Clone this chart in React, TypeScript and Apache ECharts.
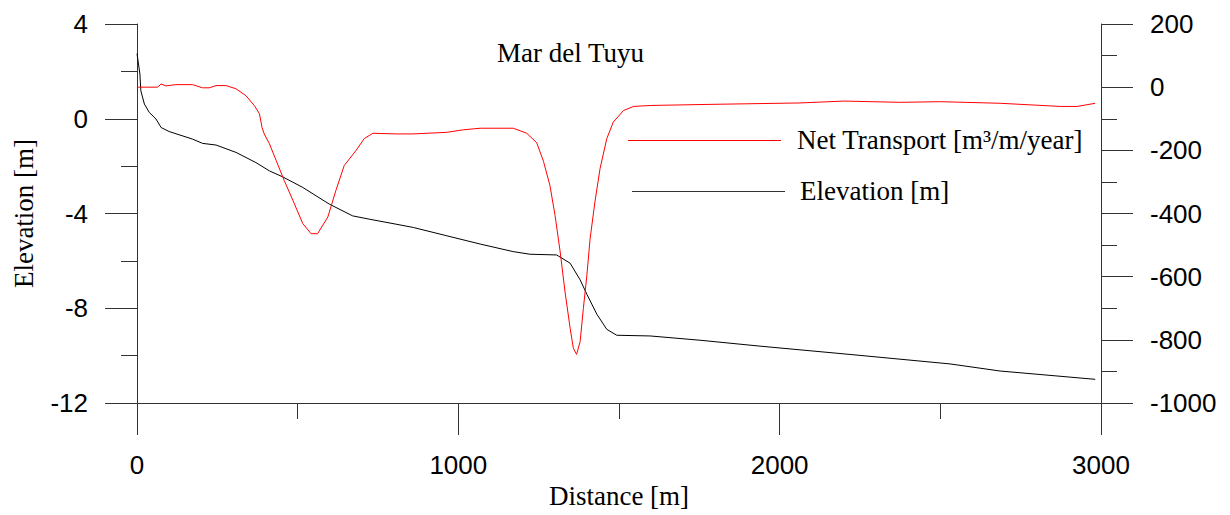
import React, { useEffect, useRef } from "react";
import * as echarts from "echarts";

const transportDist = [0, 64, 75, 90, 121, 173, 204, 225, 246, 277, 308, 339, 365, 381, 389, 396, 412, 433, 458, 485, 516, 542, 562, 594, 619, 645, 682, 707, 734, 806, 859, 964, 1016, 1068, 1171, 1213, 1244, 1265, 1285, 1301, 1317, 1332, 1348, 1358, 1368, 1379, 1389, 1400, 1410, 1425, 1441, 1462, 1482, 1514, 1545, 1597, 1752, 2063, 2200, 2375, 2500, 2686, 2873, 2926, 2982];
const transportVals = [0, 0, 10, 4, 8, 8, -2, -2, 5, 5, -5, -27, -58, -84, -127, -148, -179, -232, -295, -358, -432, -464, -464, -411, -327, -248, -200, -163, -146, -148, -148, -143, -135, -130, -130, -146, -176, -235, -311, -406, -522, -648, -764, -827, -846, -806, -701, -596, -480, -364, -258, -163, -111, -74, -61, -58, -55, -50, -44, -48, -46, -51, -61, -61, -51];

const elevDist = [0, 9, 12, 23, 38, 59, 75, 100, 173, 204, 246, 308, 370, 412, 453, 516, 598, 671, 723, 806, 860, 964, 1068, 1171, 1223, 1306, 1348, 1379, 1400, 1431, 1462, 1493, 1597, 1752, 1939, 2219, 2530, 2686, 2982];
const elevVals = [2.75, 1.89, 1.18, 0.62, 0.27, -0.01, -0.37, -0.54, -0.86, -1.04, -1.11, -1.42, -1.85, -2.2, -2.45, -2.9, -3.6, -4.1, -4.24, -4.45, -4.59, -4.94, -5.29, -5.61, -5.72, -5.75, -6.1, -6.8, -7.41, -8.25, -8.89, -9.14, -9.17, -9.35, -9.6, -9.95, -10.35, -10.65, -11.0];

const xTicks = { min: 0, max: 3000, interval: 1000 };
const leftTicks = { min: -12, max: 4, interval: 4 };
const rightTicks = { min: -1000, max: 200, interval: 200 };

const titleText = "Mar del Tuyu";
const transportName = "Net Transport [m³/m/year]";
const elevName = "Elevation [m]";
const xName = "Distance [m]";

const SANS = "'Liberation Sans', Arial, sans-serif";
const SERIF = "'Liberation Serif', 'Times New Roman', serif";
const AX = "#333";
const SERIF_SIZE = 27;

export default function App() {
  const ref = useRef<HTMLDivElement>(null);
  useEffect(() => {
    if (!ref.current) return;
    const chart = echarts.init(ref.current, null, { renderer: "svg" });
    const axisCommon = {
      axisLine: { show: true, onZero: false, lineStyle: { color: AX, width: 1 } },
      axisTick: { show: true, inside: false, length: 32, lineStyle: { color: AX, width: 1 } },
      minorTick: { show: true, splitNumber: 2, length: 16, lineStyle: { color: AX, width: 1 } },
      splitLine: { show: false },
      minorSplitLine: { show: false },
      axisLabel: {
        color: "#000",
        fontFamily: SANS,
        fontSize: 26,
        margin: 49,
        formatter: (v: number) => String(v),
      },
    };
    chart.setOption({
      animation: false,
      backgroundColor: "#fff",
      grid: { left: 137, right: 129, top: 24, bottom: 112, containLabel: false },
      xAxis: {
        type: "value",
        ...xTicks,
        ...axisCommon,
        name: xName,
        nameLocation: "middle",
        nameGap: 78,
        nameTextStyle: { fontFamily: SERIF, fontSize: SERIF_SIZE, color: "#000" },
      },
      yAxis: [
        {
          type: "value",
          position: "left",
          ...leftTicks,
          ...axisCommon,
          name: elevName,
          nameLocation: "middle",
          nameGap: 100,
          nameTextStyle: { fontFamily: SERIF, fontSize: SERIF_SIZE, color: "#000" },
        },
        {
          type: "value",
          position: "right",
          ...rightTicks,
          ...axisCommon,
        },
      ],
      series: [
        {
          name: elevName,
          type: "line",
          yAxisIndex: 0,
          showSymbol: false,
          symbol: "none",
          lineStyle: { color: "#000", width: 1 },
          data: elevDist.map((d, i) => [d, elevVals[i]]),
        },
        {
          name: transportName,
          type: "line",
          yAxisIndex: 1,
          showSymbol: false,
          symbol: "none",
          lineStyle: { color: "#ff0000", width: 1 },
          data: transportDist.map((d, i) => [d, transportVals[i]]),
        },
      ],
      graphic: [
        {
          type: "text",
          x: 497,
          y: 53,
          style: { text: titleText, font: `${SERIF_SIZE}px ${SERIF}`, fill: "#000", textAlign: "left", textVerticalAlign: "middle" },
        },
        {
          type: "line",
          shape: { x1: 628, y1: 140.5, x2: 781, y2: 140.5 },
          style: { stroke: "#ff0000", lineWidth: 1 },
        },
        {
          type: "text",
          x: 797,
          y: 140,
          style: { text: transportName, font: `${SERIF_SIZE}px ${SERIF}`, fill: "#000", textAlign: "left", textVerticalAlign: "middle" },
        },
        {
          type: "line",
          shape: { x1: 632, y1: 191.5, x2: 785, y2: 191.5 },
          style: { stroke: "#333", lineWidth: 1 },
        },
        {
          type: "text",
          x: 800,
          y: 191,
          style: { text: elevName, font: `${SERIF_SIZE}px ${SERIF}`, fill: "#000", textAlign: "left", textVerticalAlign: "middle" },
        },
      ],
    });
    return () => chart.dispose();
  }, []);
  return <div ref={ref} style={{ position: "fixed", left: 0, top: 0, width: 1230, height: 515 }} />;
}
